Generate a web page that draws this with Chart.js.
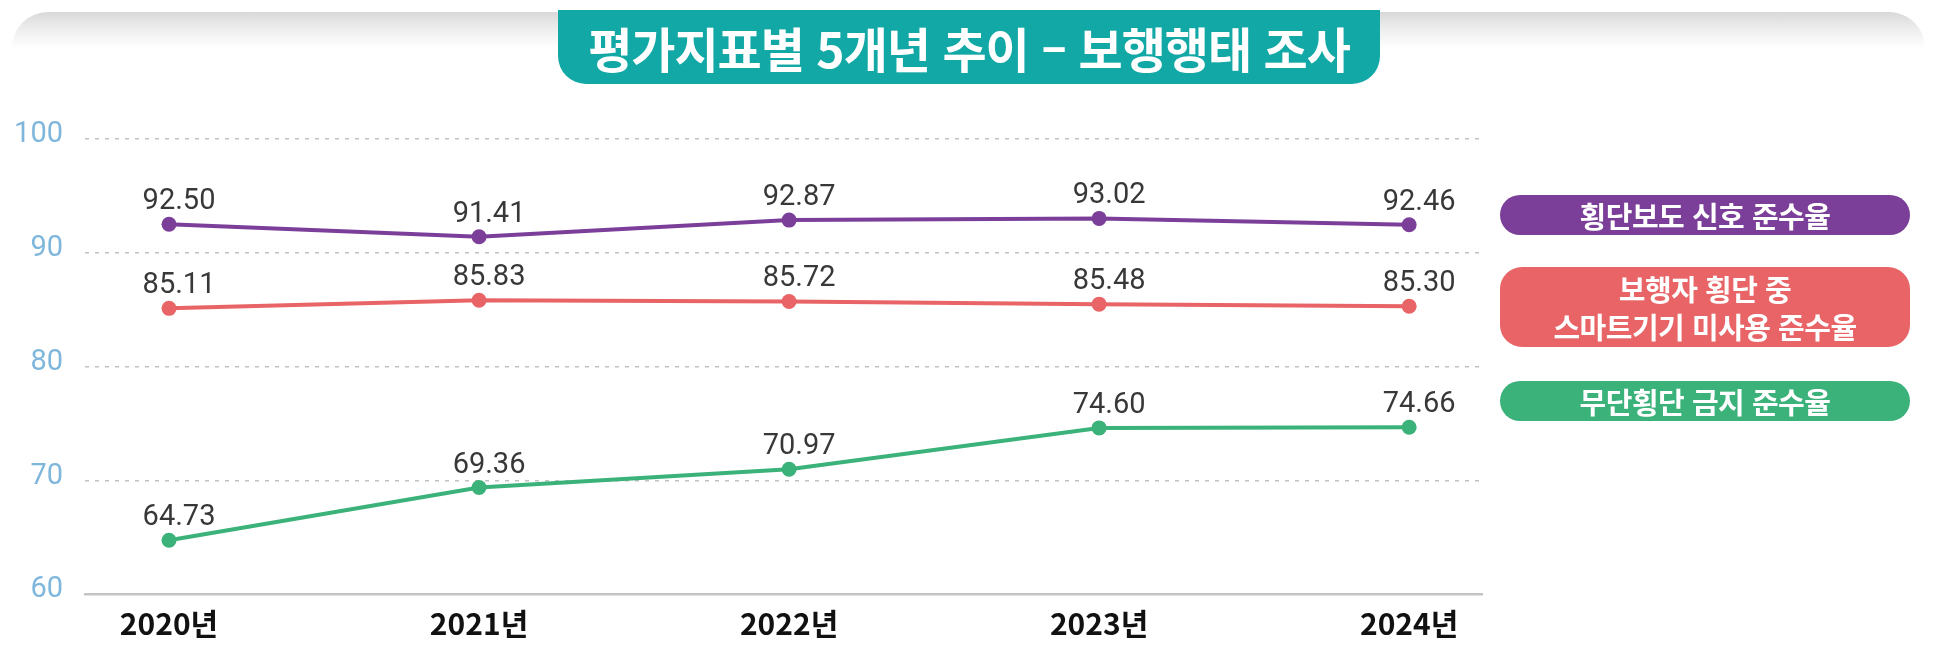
<!DOCTYPE html>
<html lang="ko">
<head>
<meta charset="utf-8">
<script src="https://cdn.jsdelivr.net/npm/chart.js@4.4.1/dist/chart.umd.min.js"></script>
<style>
  html, body { margin: 0; padding: 0; background: #fff; }
  #wrap { position: relative; width: 1937px; height: 650px; overflow: hidden; }
  #topbar { position: absolute; left: 12px; top: 12px; width: 1913px; height: 36px;
            border-radius: 36px 36px 0 0;
            background: linear-gradient(to bottom, #d8d8d8 0%, #ebebeb 40%, #ffffff 100%); }
  #title { position: absolute; left: 558px; top: 10px; width: 822px; height: 74px;
           background: #12a8a6; border-radius: 0 0 28px 28px; color: #fff;
           font: bold 48px "Noto Sans CJK KR", sans-serif; letter-spacing: -1px;
           display: flex; align-items: center; justify-content: center; z-index: 2; }
  canvas { position: absolute; left: 0; top: 0; }
  .leg { position: absolute; left: 1500px; width: 410px; border-radius: 22px; color: #fff;
         font: bold 29px "Noto Sans CJK KR", sans-serif; text-align: center;
         display: flex; align-items: center; justify-content: center; line-height: 38px;
         white-space: pre-line; z-index: 2; letter-spacing: -0.5px; }
</style>
</head>
<body>
<div id="wrap">
  <div id="topbar"></div>
  <canvas id="c" width="1937" height="650"></canvas>
  <div id="title"></div>
</div>
<script>
// ---- data ----
const titleText = '평가지표별 5개년 추이 – 보행행태 조사';
const years = ['2020년', '2021년', '2022년', '2023년', '2024년'];
const seriesNames = ['횡단보도 신호 준수율', '보행자 횡단 중\n스마트기기 미사용 준수율', '무단횡단 금지 준수율'];
const signalRate = [92.50, 91.41, 92.87, 93.02, 92.46];
const smartDeviceRate = [85.11, 85.83, 85.72, 85.48, 85.30];
const jaywalkRate = [64.73, 69.36, 70.97, 74.60, 74.66];
const yTickValues = [60, 70, 80, 90, 100];

// ---- styles ----
const seriesColors = ['#7b3f99', '#e86466', '#3bb27a'];
const legendBoxes = [{ top: 195, height: 40 }, { top: 267, height: 80 }, { top: 381, height: 40 }];

document.getElementById('title').textContent = titleText;

const seriesValues = [signalRate, smartDeviceRate, jaywalkRate];
const wrap = document.getElementById('wrap');
seriesNames.forEach((name, i) => {
  const d = document.createElement('div');
  d.className = 'leg';
  d.style.top = legendBoxes[i].top + 'px';
  d.style.height = legendBoxes[i].height + 'px';
  d.style.background = seriesColors[i];
  d.textContent = name;
  wrap.appendChild(d);
});

const valueLabels = {
  id: 'valueLabels',
  afterDatasetsDraw(chart) {
    const ctx = chart.ctx;
    ctx.save();
    ctx.font = '29px Roboto, sans-serif';
    ctx.fillStyle = '#383838';
    ctx.textAlign = 'center';
    ctx.textBaseline = 'alphabetic';
    chart.data.datasets.forEach((ds, di) => {
      chart.getDatasetMeta(di).data.forEach((pt, i) => {
        ctx.fillText(ds.data[i].y.toFixed(2), pt.x + 10, pt.y - 15);
      });
    });
    ctx.restore();
  }
};

new Chart(document.getElementById('c'), {
  type: 'line',
  data: {
    datasets: seriesValues.map((vals, i) => ({
      label: seriesNames[i],
      data: vals.map((v, j) => ({ x: j, y: v })),
      borderColor: seriesColors[i],
      backgroundColor: seriesColors[i],
      pointBackgroundColor: seriesColors[i],
      pointBorderWidth: 0,
      pointRadius: 7.5,
      borderWidth: 4,
      tension: 0,
      fill: false
    }))
  },
  options: {
    responsive: false,
    animation: false,
    events: [],
    layout: { padding: { top: 139, right: 455, left: 0, bottom: 0 } },
    plugins: { legend: { display: false }, tooltip: { enabled: false } },
    scales: {
      x: {
        type: 'linear',
        min: -0.271,
        max: 4.235,
        afterBuildTicks: (axis) => { axis.ticks = years.map((_, i) => ({ value: i })); },
        afterFit: (axis) => { axis.height = 56; },
        grid: { display: false, drawTicks: false },
        border: { display: true, color: '#c4c4c4', width: 2.5 },
        ticks: {
          padding: 12,
          color: '#111',
          font: { family: '"Noto Sans CJK KR", sans-serif', size: 30, weight: 'bold' },
          callback: (v) => years[v] ?? '',
          maxRotation: 0,
          autoSkip: false
        }
      },
      y: {
        min: 60,
        max: 100,
        afterBuildTicks: (axis) => { axis.ticks = yTickValues.map(v => ({ value: v })); },
        afterFit: (axis) => { axis.width = 85; },
        border: { display: false, dash: [4, 6] },
        grid: {
          drawTicks: false,
          color: (c) => c.tick && c.tick.value === 60 ? 'rgba(0,0,0,0)' : '#c2c2c2',
          lineWidth: 1.5
        },
        ticks: {
          padding: 22,
          labelOffset: -4,
          color: '#7fb6db',
          font: { family: 'Roboto, sans-serif', size: 29 }
        }
      }
    }
  },
  plugins: [valueLabels]
});
</script>
</body>
</html>
